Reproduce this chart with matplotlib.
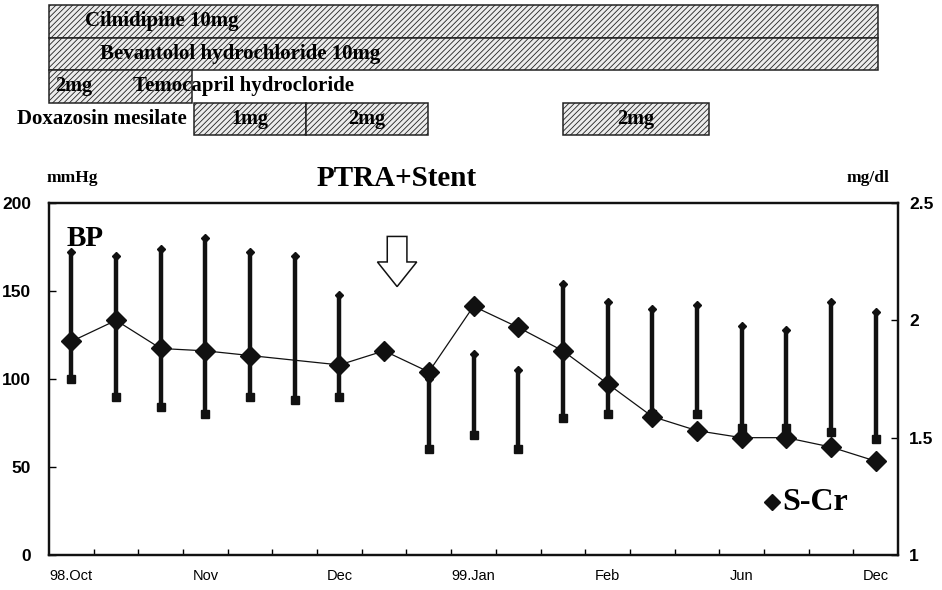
import matplotlib
matplotlib.use("Agg")
import matplotlib.pyplot as plt
import numpy as np
from matplotlib.patches import Rectangle, FancyArrow

# time points (19 visits)
n_visits = 19
tick_pos = [0, 3, 6, 9, 12, 15, 18]
tick_labels = ["98.Oct", "Nov", "Dec", "99.Jan", "Feb", "Jun", "Dec"]

# blood pressure (mmHg): high / low, nan = not measured
bp_high = [172, 170, 174, 180, 172, 170, 148, np.nan, 100, 114, 105, 154, 144, 140, 142, 130, 128, 144, 138]
bp_low = [100, 90, 84, 80, 90, 88, 90, np.nan, 60, 68, 60, 78, 80, 80, 80, 72, 72, 70, 66]

# serum creatinine (mg/dl)
scr = [1.91, 2.00, 1.88, 1.87, 1.85, np.nan, 1.81, 1.87, 1.78, 2.06, 1.97, 1.87, 1.73, 1.59, 1.53, 1.50, 1.50, 1.46, 1.40]

# medication boxes: (row, start, end, label in box)
drug_boxes = [
    (0, 0.0, 18.55, ""),
    (1, 0.0, 18.55, ""),
    (2, 0.0, 3.2, "2mg"),
    (3, 3.25, 5.75, "1mg"),
    (3, 5.75, 8.48, "2mg"),
    (3, 11.5, 14.77, "2mg"),
]
drug_names = ["Cilnidipine 10mg", "Bevantolol hydrochloride 10mg", "Temocapril hydrocloride", "Doxazosin mesilate"]

serif = "Liberation Serif"
sans = "Liberation Sans"
plt.rcParams["hatch.color"] = "#b8b8b8"
plt.rcParams["hatch.linewidth"] = 0.6

fig = plt.figure(figsize=(9.42, 5.90), dpi=100)

# ---- main chart ----
ax = fig.add_axes([49 / 942, 35 / 590, 849 / 942, 352 / 590])
x = np.arange(n_visits) + 0.5
high = np.array(bp_high)
low = np.array(bp_low)
ax.vlines(x, low, high, color="#111111", lw=3.2, zorder=2)
ax.plot(x, high, ls="none", marker="D", ms=4.5, color="#111111", zorder=3)
ax.plot(x, low, ls="none", marker="s", ms=5.5, color="#111111", zorder=3)

ax.set_xlim(0, n_visits)
ax.set_ylim(0, 200)
ax.set_yticks([0, 50, 100, 150, 200])
ax.set_xticks(np.array(tick_pos) + 0.5)
ax.set_xticklabels(tick_labels, fontfamily=sans, fontsize=10.5)
ax.set_xticks(np.arange(1, n_visits), minor=True)
ax.tick_params(axis="x", which="major", length=0, pad=10)
ax.tick_params(axis="x", which="minor", direction="in", length=4, width=1)
ax.tick_params(axis="y", direction="in", length=5, width=1, pad=13)
for lbl in ax.get_yticklabels():
    lbl.set_fontfamily(sans)
    lbl.set_fontweight("bold")
    lbl.set_fontsize(12.5)
for s in ax.spines.values():
    s.set_linewidth(1.6)
    s.set_color("#111111")

ax2 = ax.twinx()
scr_arr = np.array(scr)
ok = ~np.isnan(scr_arr)
ax2.plot(x[ok], scr_arr[ok], color="#111111", lw=0.9, marker="D", ms=10.5, zorder=4)
ax2.set_ylim(1, 2.5)
ax2.set_yticks([1, 1.5, 2, 2.5])
ax2.set_yticklabels(["1", "1.5", "2", "2.5"])
ax2.tick_params(axis="y", direction="in", length=5, width=1, pad=8)
for lbl in ax2.get_yticklabels():
    lbl.set_fontfamily(sans)
    lbl.set_fontweight("bold")
    lbl.set_fontsize(12.5)
for s in ax2.spines.values():
    s.set_linewidth(1.6)
    s.set_color("#111111")

# annotations
ax.text(0.4, 180, "BP", fontfamily=serif, fontweight="bold", fontsize=21, va="center", ha="left")
ax2.plot([0.852], [0.15], "D", ms=8, color="#111111", transform=ax2.transAxes)
ax2.text(0.864, 0.15, "S-Cr", transform=ax2.transAxes, fontfamily=serif, fontweight="bold",
         fontsize=23, va="center", ha="left")
ax.add_patch(FancyArrow(7.79, 181, 0, -28.5, width=0.44, head_width=0.88, head_length=14,
                        length_includes_head=True, fc="white", ec="#111111", lw=1.1, zorder=5))
fig.text(72 / 942, 1 - 178 / 590, "mmHg", fontfamily=serif, fontweight="bold", fontsize=12.5,
         ha="center", va="center")
fig.text(868 / 942, 1 - 178 / 590, "mg/dl", fontfamily=serif, fontweight="bold", fontsize=12.5,
         ha="center", va="center")
fig.text(397 / 942, 1 - 178 / 590, "PTRA+Stent", fontfamily=serif, fontweight="bold", fontsize=21,
         ha="center", va="center")

# ---- medication panel ----
axd = fig.add_axes([49 / 942, 1 - 135 / 590, 849 / 942, 130 / 590])
axd.set_xlim(0, n_visits)
axd.set_ylim(4, 0)
axd.axis("off")
for row, x0, x1, lbl in drug_boxes:
    axd.add_patch(Rectangle((x0, row), x1 - x0, 1, facecolor="#ececec", edgecolor="#222222",
                            hatch="//////", lw=1.1, clip_on=False))
    if lbl:
        cx = (x0 + x1) / 2 if row == 3 else 0.55
        axd.text(cx, row + 0.5, lbl, fontfamily=serif, fontweight="bold", fontsize=14.5,
                 ha="center", va="center")
axd.text(0.8, 0.5, drug_names[0], fontfamily=serif, fontweight="bold", fontsize=15, va="center")
axd.text(1.15, 1.5, drug_names[1], fontfamily=serif, fontweight="bold", fontsize=15, va="center")
axd.text(1.88, 2.5, drug_names[2], fontfamily=serif, fontweight="bold", fontsize=15, va="center")
axd.text(3.08, 3.5, drug_names[3], fontfamily=serif, fontweight="bold", fontsize=15, va="center",
         ha="right")

fig.savefig("out.png", dpi=100)
